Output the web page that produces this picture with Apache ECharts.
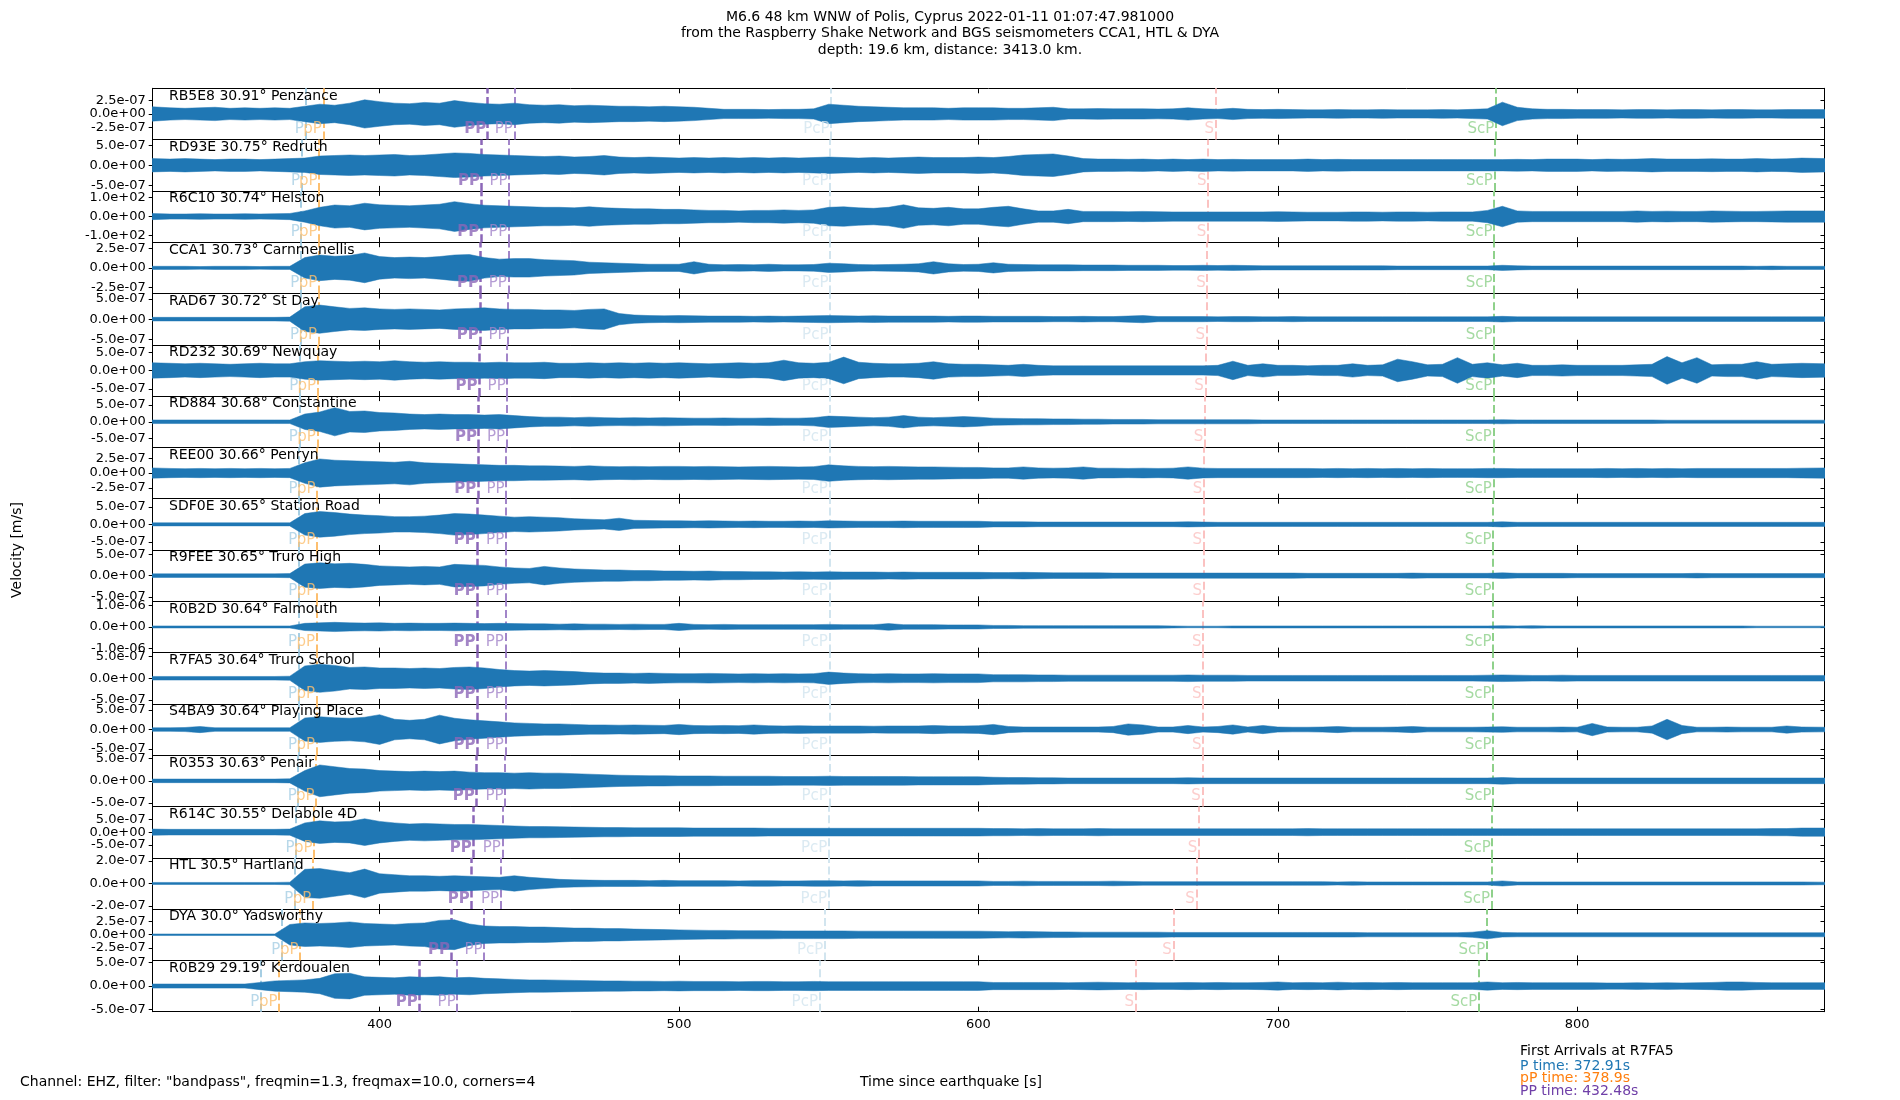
<!DOCTYPE html>
<html>
<head>
<meta charset="utf-8">
<title>M6.6 Polis, Cyprus - Cornwall seismometers</title>
<script src="https://cdn.jsdelivr.net/npm/echarts@6.0.0/dist/echarts.min.js"></script>
<style>
  html, body { margin: 0; padding: 0; background: #fff; }
  #chart { width: 1900px; height: 1100px; }
</style>
</head>
<body>
<div id="chart"></div>
<script>
// stations, top to bottom
const stations = ['RB5E8', 'RD93E', 'R6C10', 'CCA1', 'RAD67', 'RD232', 'RD884', 'REE00', 'SDF0E',
  'R9FEE', 'R0B2D', 'R7FA5', 'S4BA9', 'R0353', 'R614C', 'HTL', 'DYA', 'R0B29'];
const distances = ['30.91', '30.75', '30.74', '30.73', '30.72', '30.69', '30.68', '30.66', '30.65',
  '30.65', '30.64', '30.64', '30.64', '30.63', '30.55', '30.5', '30.0', '29.19'];
const places = ['Penzance', 'Redruth', 'Helston', 'Carnmenellis', 'St Day', 'Newquay', 'Constantine',
  'Penryn', 'Station Road', 'Truro High', 'Falmouth', 'Truro School', 'Playing Place', 'Penair',
  'Delabole 4D', 'Hartland', 'Yadsworthy', 'Kerdoualen'];

// y tick step and y limit of every panel (m/s, R6C10 in counts)
const yTickSteps = [2.5e-7, 5e-7, 100, 2.5e-7, 5e-7, 5e-7, 5e-7, 2.5e-7, 5e-7,
  5e-7, 1e-6, 5e-7, 5e-7, 5e-7, 5e-7, 2e-7, 2.5e-7, 5e-7];
const yLimits = [4.68e-7, 6.4e-7, 136, 3.3e-7, 6.3e-7, 7.0e-7, 7.7e-7, 4.3e-7, 7.3e-7,
  6.0e-7, 1.2e-6, 5.9e-7, 6.6e-7, 5.8e-7, 1.0e-6, 2.28e-7, 4.8e-7, 5.5e-7];

// predicted phase arrivals [s]
const pTimes = [375.2, 373.9, 373.8, 373.7, 373.6, 373.3, 373.2, 373.1, 373.0, 373.0, 372.9, 372.9, 372.9, 372.8, 372.1, 371.7, 367.3, 360.3];
const pPTimes = [381.2, 379.8, 379.8, 379.7, 379.6, 379.3, 379.2, 379.1, 379.0, 379.0, 378.9, 378.9, 378.9, 378.8, 378.1, 377.7, 373.4, 366.4];
const ppTimes = [436.1, 434.0, 433.8, 433.7, 433.6, 433.2, 433.0, 432.8, 432.6, 432.6, 432.5, 432.5, 432.5, 432.3, 431.3, 430.6, 424.0, 413.2];
const pp2Times = [445.0, 443.2, 443.1, 443.0, 442.9, 442.6, 442.4, 442.2, 442.1, 442.1, 442.0, 442.0, 442.0, 441.9, 441.0, 440.4, 434.9, 425.9];
const pcpTimes = [550.8, 550.4, 550.4, 550.4, 550.4, 550.3, 550.3, 550.2, 550.2, 550.2, 550.2, 550.2, 550.2, 550.2, 550.0, 549.9, 548.7, 546.9];
const sTimes = [679.2, 676.7, 676.6, 676.4, 676.2, 675.8, 675.6, 675.3, 675.2, 675.2, 675.0, 675.0, 675.0, 674.8, 673.6, 672.8, 665.1, 652.5];
const scpTimes = [772.8, 772.3, 772.2, 772.2, 772.2, 772.1, 772.0, 772.0, 771.9, 771.9, 771.9, 771.9, 771.9, 771.9, 771.6, 771.4, 769.8, 767.1];

const xTicks = [400, 500, 600, 700, 800];

// trace envelope: sample times [s] and amplitude in % of the panel's y limit
const sampleTimes = [324, 330, 335, 340, 345, 350, 355, 360, 365, 370, 375, 380, 385, 390, 395, 400, 405, 410, 415, 420,
  425, 430, 435, 440, 445, 450, 455, 460, 465, 470, 475, 480, 485, 490, 495, 500, 505, 510, 515, 520,
  525, 530, 535, 540, 545, 550, 555, 560, 565, 570, 575, 580, 585, 590, 595, 600, 605, 610, 615, 620,
  625, 630, 635, 640, 645, 650, 655, 660, 665, 670, 675, 680, 685, 690, 695, 700, 705, 710, 715, 720,
  725, 730, 735, 740, 745, 750, 755, 760, 765, 770, 775, 780, 785, 790, 795, 800, 805, 810, 815, 820,
  825, 830, 835, 840, 845, 850, 855, 860, 865, 870, 875, 883];

const ampRB5E8 = [28,24,22,24,26,22,24,22,24,22, 30,38,34,42,55,48,42,40,45,42, 52,45,40,38,42,36,34,36,32,34, 32,30,30,28,30,28,26,22,18,18, 18,17,18,18,20,38,34,30,28,26, 24,24,24,22,24,24,
  24,22,22,24,26,20,20,21,20,20, 20,19,20,24,20,18,22,18,17,18, 17,16,16,17,16,16,17,16,16,16, 17,16,18,20,46,26,20,18,18,17, 17,17,16,17,17,16,17,17,16,17, 17,16,16,17,17,17];
const ampRD93E = [26,24,26,24,22,24,24,22,24,26, 28,36,38,40,38,40,42,38,40,44, 48,46,42,40,38,36,34,36,32,34, 38,32,30,32,30,28,30,28,30,28, 30,28,30,28,30,32,30,28,30,28, 30,32,30,30,30,32,
  30,34,40,42,44,36,26,24,24,23, 24,22,24,22,24,22,23,22,22,22, 22,24,22,23,22,22,22,22,22,22, 22,22,22,22,22,23,22,24,24,24, 22,24,23,24,26,24,24,24,25,24, 24,26,24,25,28,26];
const ampR6C10 = [12,10,10,11,10,10,11,10,11,12, 22,36,45,42,52,46,44,42,45,48, 58,50,44,42,40,38,36,36,34,38, 34,32,30,30,28,28,26,24,24,22, 24,24,26,24,26,36,38,34,32,36, 46,34,32,36,30,30,
  36,40,30,22,22,28,20,20,20,19, 20,19,18,18,18,18,18,18,18,19, 18,17,17,17,18,18,17,18,18,17, 18,18,18,24,40,22,20,20,20,20, 20,20,20,22,20,21,20,20,22,21, 20,20,21,22,22,22];
const ampCCA1 = [6,6,6,5,6,6,6,5,6,6, 40,50,45,48,58,44,40,42,40,44, 50,52,40,34,36,36,32,30,28,22, 20,18,16,14,14,14,24,14,12,13, 12,14,12,12,13,18,16,13,12,13, 14,16,24,16,13,14,
  20,14,13,12,12,12,11,11,11,10, 10,10,9,9,10,9,10,9,8,8, 8,8,8,8,8,8,8,7,7,7, 7,7,7,7,10,8,7,7,7,7, 7,7,7,7,7,7,7,7,7,7, 7,6,7,6,6,6];
const ampRAD67 = [7,7,7,7,7,7,7,7,7,8, 48,55,48,42,44,40,38,40,38,36, 40,42,44,40,38,38,36,36,34,38, 40,22,16,14,13,14,13,12,12,12, 11,12,11,12,13,14,13,12,13,12, 12,12,12,11,12,12,
  11,11,11,11,10,10,11,10,10,12, 14,10,10,10,10,9,10,10,9,9, 10,9,9,9,9,9,9,9,9,9, 9,9,9,9,11,9,9,9,9,9, 9,9,9,9,9,9,9,9,9,9, 9,9,9,9,9,9];
const ampRD232 = [30,28,26,28,26,24,26,28,26,26, 34,38,36,34,36,34,38,34,32,34, 32,32,30,32,30,30,32,28,28,30, 28,30,28,30,28,30,28,26,28,30, 28,30,40,30,28,32,52,32,28,26, 26,28,34,26,24,24,
  22,20,24,20,18,18,18,18,18,18, 18,18,18,18,18,20,36,20,26,20, 20,18,20,20,26,20,22,44,34,22, 24,50,24,30,22,28,20,20,22,20, 20,20,20,22,24,54,30,50,22,24, 24,34,24,26,28,26];
const ampRD884 = [7,7,7,7,7,7,7,7,7,7, 30,38,55,40,42,36,34,30,28,30, 28,28,26,28,24,20,18,18,16,18, 16,15,16,15,16,15,14,14,15,14, 14,15,14,14,16,22,20,18,16,18, 24,18,16,18,20,18,
  14,13,12,12,11,11,10,10,9,9, 9,8,8,8,8,8,8,8,7,7, 7,7,7,7,7,7,7,7,7,7, 7,7,7,7,8,7,7,7,7,7, 7,7,7,7,7,6,6,6,6,6, 6,6,6,6,6,6];
const ampREE00 = [20,18,17,18,17,18,17,18,17,18, 40,55,50,48,46,44,42,46,40,38, 36,34,32,30,30,28,28,27,26,28, 26,25,26,25,26,26,25,26,25,24, 25,26,25,24,25,32,28,26,25,26, 25,24,24,23,22,22,
  20,20,24,20,19,20,24,19,19,18, 19,18,19,24,19,18,18,18,18,18, 18,18,17,18,17,18,17,18,17,18, 17,17,17,18,18,17,17,17,17,17, 17,18,17,18,17,18,17,18,18,18, 18,18,18,18,19,20];
const ampSDF0E = [6,6,6,6,6,6,6,6,6,6, 42,50,46,40,36,34,30,30,32,36, 42,40,36,32,28,30,28,26,22,20, 18,24,16,15,14,14,13,14,13,12, 13,12,12,13,12,14,13,12,12,12, 13,12,12,12,12,12,
  10,10,10,9,9,9,9,9,9,9, 9,9,9,10,9,8,8,8,8,8, 8,8,8,8,8,8,8,8,8,8, 8,8,8,8,10,8,8,8,8,8, 8,8,8,8,8,8,8,8,8,8, 8,8,8,8,8,8];
const ampR9FEE = [7,7,7,7,7,7,7,7,7,8, 45,50,46,48,44,38,36,34,36,34, 44,42,40,34,30,28,36,30,26,24, 22,22,20,20,18,18,17,18,16,16, 15,15,14,15,14,15,14,14,14,13, 14,13,13,13,13,13,
  12,12,13,12,11,11,11,11,10,10, 10,10,10,10,10,10,10,10,10,10, 10,9,9,9,9,9,9,9,10,9, 9,9,9,9,11,9,9,9,9,8, 8,8,8,8,8,8,8,9,8,8, 8,8,8,8,8,8];
const ampR0B2D = [4,4,4,4,4,4,4,4,4,4, 14,16,18,16,15,16,14,15,14,14, 15,14,13,14,13,12,12,11,12,11, 11,10,11,10,10,14,10,9,10,9, 9,9,9,9,9,10,9,9,9,13, 9,9,9,8,8,8,
  6,6,5,5,5,5,5,5,5,5, 5,5,4,3,3,3,4,4,4,4, 4,4,4,4,4,4,4,4,4,4, 4,4,4,4,5,4,5,4,4,4, 4,4,4,4,4,4,4,4,4,4, 4,3,3,3,3,3];
const ampR7FA5 = [7,7,7,7,7,7,7,7,7,8, 48,55,50,42,44,40,40,38,40,38, 42,44,40,34,30,28,30,28,26,22, 20,20,19,20,19,18,18,19,18,17, 18,17,18,17,18,24,20,18,17,18, 17,17,18,17,17,17,
  14,14,14,13,13,12,12,12,12,12, 12,12,12,13,12,12,12,11,11,11, 11,11,11,11,11,11,11,11,11,11, 11,11,11,12,13,12,11,11,12,11, 11,11,11,11,11,11,11,11,11,11, 11,11,11,11,11,11];
const ampS4BA9 = [7,7,8,12,7,7,7,7,7,7, 45,50,46,44,48,58,40,36,40,56, 44,38,34,30,26,24,22,22,20,18, 18,17,18,17,16,20,16,15,16,15, 18,15,14,15,14,14,14,14,13,14, 14,14,16,14,14,15,
  20,12,10,10,10,10,10,10,12,22, 18,10,10,16,10,12,18,10,16,10, 9,9,10,12,9,9,9,10,12,9, 9,9,9,10,11,9,9,9,10,9, 24,10,9,9,14,40,16,9,9,10, 9,9,9,14,10,9];
const ampR0353 = [7,7,7,7,7,7,7,7,7,8, 40,62,55,48,46,40,38,36,38,36, 38,34,32,32,30,32,30,30,28,26, 24,22,21,20,20,19,19,19,18,18, 18,18,17,17,17,18,17,17,17,17, 17,16,16,16,16,16,
  14,13,13,12,12,11,11,11,11,11, 11,11,11,12,11,11,11,11,11,11, 11,11,11,11,11,11,11,11,11,11, 11,11,11,11,13,11,11,11,11,11, 11,11,11,11,11,11,11,11,11,11, 11,11,11,11,11,11];
const ampR614C = [12,11,11,11,11,11,11,11,11,12, 36,44,40,42,52,42,36,32,34,32, 30,30,28,26,24,22,22,21,20,19, 18,18,17,17,17,17,16,16,16,16, 16,15,15,15,15,15,15,15,15,15, 15,15,15,15,15,15,
  14,14,13,14,13,13,13,14,13,13, 13,13,13,13,13,13,13,13,13,13, 13,14,13,13,13,13,13,13,13,13, 13,13,13,13,13,13,13,13,13,13, 13,13,13,13,13,13,13,13,13,13, 13,13,14,14,16,16];
const ampHTL = [4,4,4,4,4,4,4,4,4,5, 55,58,50,42,56,38,34,30,30,28, 30,28,26,24,30,24,20,16,14,13, 12,12,12,11,12,11,11,11,11,10, 11,11,10,10,11,11,10,11,10,10, 10,10,10,10,10,10,
  8,8,9,8,8,8,8,8,9,8, 7,7,7,7,7,7,7,7,7,7, 7,7,7,6,7,6,6,6,6,6, 6,6,6,6,10,6,6,6,6,6, 6,6,6,6,6,6,6,6,6,6, 6,6,6,6,6,5];
const ampDYA = [3,3,3,3,3,3,3,3,3,40, 46,44,46,50,44,42,40,44,46,56, 58,42,34,32,32,30,30,28,26,26, 24,24,22,21,20,19,18,17,17,16, 16,16,15,15,15,15,15,14,14,14, 14,14,14,14,14,14,
  13,12,13,12,11,11,10,10,10,10, 10,10,9,9,9,9,9,9,9,9, 9,9,9,9,9,8,8,8,8,8, 8,8,10,16,9,8,8,8,8,8, 8,8,8,8,8,8,8,8,8,8, 8,8,8,8,8,8];
const ampR0B29 = [8,8,8,8,8,8,8,14,20,22, 24,30,48,50,36,34,32,36,34,36, 32,34,30,28,26,24,24,23,22,21, 20,20,19,19,18,19,18,18,18,17, 18,18,17,17,18,17,17,17,17,17, 17,17,17,17,17,17,
  14,14,14,14,14,13,14,15,14,13, 14,13,13,14,13,14,13,13,14,16, 13,14,13,15,13,14,13,14,13,13, 13,13,13,16,13,14,13,13,13,13, 13,12,12,13,12,13,12,13,14,16, 16,14,13,13,13,13];

const traces = [ampRB5E8, ampRD93E, ampR6C10, ampCCA1, ampRAD67, ampRD232, ampRD884, ampREE00, ampSDF0E,
  ampR9FEE, ampR0B2D, ampR7FA5, ampS4BA9, ampR0353, ampR614C, ampHTL, ampDYA, ampR0B29];

// ---- layout ----
const PLOT_LEFT = 152.7, PLOT_RIGHT = 1824.5, PLOT_TOP = 88.3, PANEL_H = 51.3;
const X_MIN = 324.2, X_MAX = 882.6;
const TRACE = '#1f77b4';
const FONT = '"DejaVu Sans", "Liberation Sans", sans-serif';

const phases = [
  { name: 'P',   times: pTimes,   color: '#a6cee3', width: 2 },
  { name: 'pP',  times: pPTimes,  color: '#fdbf6f', width: 2 },
  { name: 'PP',  times: ppTimes,  color: '#8c67b8', width: 2.5, bold: true },
  { name: 'PP',  times: pp2Times, color: '#a285c9', width: 2 },
  { name: 'PcP', times: pcpTimes, color: '#d2e5ef', width: 2 },
  { name: 'S',   times: sTimes,   color: '#fbc2c1', width: 2 },
  { name: 'ScP', times: scpTimes, color: '#8fd18b', width: 2 }
];

function sci(v) {
  if (v === 0) return '0.0e+00';
  const parts = v.toExponential(1).split('e');
  const n = parseInt(parts[1], 10);
  return parts[0] + 'e' + (n < 0 ? '-' : '+') + String(Math.abs(n)).padStart(2, '0');
}

// one filled polygon per trace: +amp along the top, -amp back along the bottom
function traceRenderer(yLim) {
  return function (params, api) {
    if (params.dataIndexInside !== 0) return null;
    const upper = [], lower = [];
    for (let j = 0; j < params.dataInsideLength; j++) {
      const t = api.value(0, j);
      const a = api.value(1, j) / 100 * yLim;
      upper.push(api.coord([t, a]));
      lower.push(api.coord([t, -a]));
    }
    return {
      type: 'polygon',
      shape: { points: upper.concat(lower.reverse()) },
      style: { fill: TRACE, stroke: TRACE, lineWidth: 0.5 }
    };
  };
}

const grids = [], xAxes = [], yAxes = [], series = [], texts = [];
const axisLine = { show: true, onZero: false, lineStyle: { color: '#000', width: 1 } };

stations.forEach(function (name, i) {
  const top = PLOT_TOP + i * PANEL_H;
  const lim = yLimits[i], step = yTickSteps[i];
  const yt = [-step, 0, step];
  const last = i === stations.length - 1;

  grids.push({ left: PLOT_LEFT, top: top, width: PLOT_RIGHT - PLOT_LEFT, height: PANEL_H });

  xAxes.push({
    type: 'value', gridIndex: i, position: 'bottom', min: X_MIN, max: X_MAX,
    axisLine: axisLine,
    axisTick: { show: true, inside: true, length: 5, customValues: xTicks, lineStyle: { color: '#000' } },
    axisLabel: { show: last, customValues: xTicks, color: '#000', fontSize: 13, margin: 6,
      fontFamily: FONT, hideOverlap: false },
    splitLine: { show: false }
  });
  xAxes.push({
    type: 'value', gridIndex: i, position: 'top', min: X_MIN, max: X_MAX,
    axisLine: axisLine,
    axisTick: { show: true, inside: true, length: 5, customValues: xTicks, lineStyle: { color: '#000' } },
    axisLabel: { show: false },
    splitLine: { show: false }
  });
  yAxes.push({
    type: 'value', gridIndex: i, position: 'left', min: -lim, max: lim,
    axisLine: axisLine,
    axisTick: { show: true, inside: false, length: 4, customValues: yt, lineStyle: { color: '#000' } },
    axisLabel: { show: true, customValues: yt, formatter: sci, color: '#000', fontSize: 13, margin: 7,
      lineHeight: 9, fontFamily: FONT, hideOverlap: false, showMinLabel: true, showMaxLabel: true },
    splitLine: { show: false }
  });
  yAxes.push({
    type: 'value', gridIndex: i, position: 'right', min: -lim, max: lim,
    axisLine: axisLine,
    axisTick: { show: true, inside: true, length: 4, customValues: yt, lineStyle: { color: '#000' } },
    axisLabel: { show: false },
    splitLine: { show: false }
  });

  series.push({
    type: 'custom', name: name, xAxisIndex: 2 * i, yAxisIndex: 2 * i,
    clip: true, silent: true, z: 2,
    renderItem: traceRenderer(lim),
    data: sampleTimes.map(function (t, j) { return [t, traces[i][j]]; })
  });

  // phase names at the foot of each panel, dashed arrival lines behind the trace
  series.push({
    type: 'scatter', name: name + ' phases', xAxisIndex: 2 * i, yAxisIndex: 2 * i,
    symbolSize: 1, itemStyle: { color: 'rgba(0,0,0,0)' }, silent: true, z: 3,
    data: phases.map(function (ph) {
      return {
        value: [ph.times[i], -0.61 * lim],
        label: {
          show: true, position: 'left', distance: 1, formatter: ph.name,
          color: ph.color, fontSize: 15, fontFamily: FONT,
          fontWeight: ph.bold ? 'bold' : 'normal'
        }
      };
    }),
    markLine: {
      silent: true, symbol: ['none', 'none'], animation: false, z: 1,
      label: { show: false },
      data: phases.map(function (ph) {
        return { xAxis: ph.times[i], lineStyle: { color: ph.color, width: ph.width, type: [8, 3.5] } };
      })
    }
  });

  texts.push({
    type: 'text', z: 100, x: 169, y: top + 7.7,
    style: { text: name + ' ' + distances[i] + '° ' + places[i], fill: '#000', font: '14px ' + FONT,
      align: 'left', verticalAlign: 'middle', textAlign: 'left', textVerticalAlign: 'middle' }
  });
});

function label(text, x, y, color, align, extra) {
  return Object.assign({
    type: 'text', z: 100, x: x, y: y,
    style: { text: text, fill: color, font: '14px ' + FONT,
      align: align, verticalAlign: 'middle', textAlign: align, textVerticalAlign: 'middle' }
  }, extra || {});
}

texts.push(label('M6.6 48 km WNW of Polis, Cyprus 2022-01-11 01:07:47.981000', 950, 17, '#000', 'center'));
texts.push(label('from the Raspberry Shake Network and BGS seismometers CCA1, HTL & DYA', 950, 33.5, '#000', 'center'));
texts.push(label('depth: 19.6 km, distance: 3413.0 km.', 950, 50, '#000', 'center'));
texts.push(label('Velocity [m/s]', 17, 550, '#000', 'center', { rotation: Math.PI / 2 }));
texts.push(label('Channel: EHZ, filter: "bandpass", freqmin=1.3, freqmax=10.0, corners=4', 20, 1082, '#000', 'left'));
texts.push(label('Time since earthquake [s]', 951, 1082, '#000', 'center'));
texts.push(label('First Arrivals at R7FA5', 1520, 1051, '#000', 'left'));
texts.push(label('P time: 372.91s', 1520, 1066, '#1f77b4', 'left'));
texts.push(label('pP time: 378.9s', 1520, 1078.5, '#ff7f0e', 'left'));
texts.push(label('PP time: 432.48s', 1520, 1091, '#7040a8', 'left'));

const chart = echarts.init(document.getElementById('chart'), null, { renderer: 'canvas' });
chart.setOption({
  backgroundColor: '#fff',
  animation: false,
  textStyle: { fontFamily: FONT },
  grid: grids,
  xAxis: xAxes,
  yAxis: yAxes,
  series: series,
  graphic: { elements: texts }
});
</script>
</body>
</html>
